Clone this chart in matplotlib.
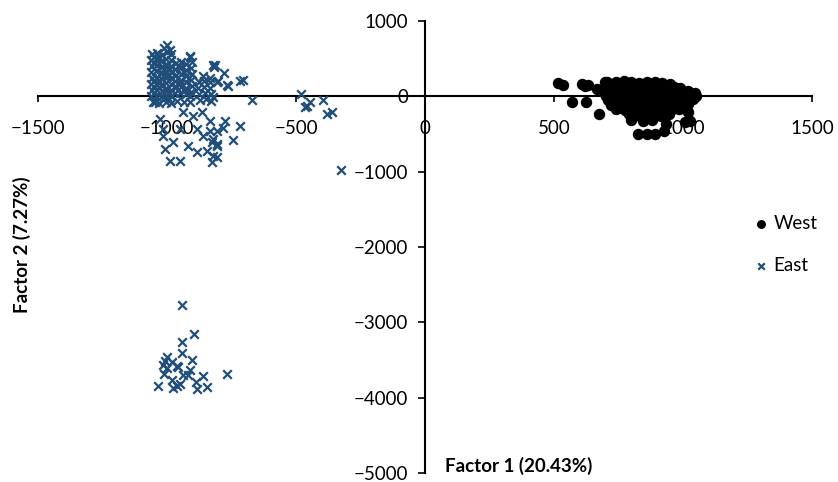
import matplotlib
matplotlib.use("Agg")
import matplotlib.pyplot as plt

# ---- data ----
west_x = [516, 535, 609, 620, 632, 570, 624, 667, 674, 698, 764, 783, 826, 860, 891, 926, 934, 1019, 1027, 1008,
          705, 740, 770, 800, 830, 860, 890, 920, 950,
          700, 725, 755, 785, 815, 845, 875, 905, 935, 965, 990,
          695, 720, 750, 780, 810, 840, 870, 900, 930, 960, 990, 1020, 1045,
          700, 730, 760, 790, 820, 850, 880, 910, 940, 970, 1000, 1030, 1052,
          710, 740, 770, 800, 830, 860, 890, 920, 950, 980, 1010, 1040,
          720, 750, 780, 810, 840, 870, 900, 930, 960, 990, 1020,
          740, 775, 805, 835, 865, 895, 925, 955, 985,
          790, 820, 850, 880, 915, 945,
          800, 845, 880]
west_y = [171, 145, 158, 132, 145, -79, -79, 92, -237, 185, -158, -198, -501, -501, -501, -462, -369, -211, -330, -343,
          195, 185, 200, 190, 180, 195, 185, 175, 160,
          130, 140, 125, 135, 130, 120, 140, 130, 125, 120, 110,
          70, 60, 75, 65, 80, 70, 60, 75, 65, 70, 60, 75, 50,
          10, 20, 5, 15, 0, 10, 20, 5, 15, 0, 10, -5, 5,
          -50, -40, -55, -45, -60, -50, -40, -55, -45, -60, -50, -40,
          -110, -120, -105, -115, -100, -110, -125, -105, -115, -120, -100,
          -170, -180, -165, -175, -185, -170, -160, -180, -165,
          -240, -250, -235, -245, -255, -240,
          -320, -330, -310]

east_x = [-1000, -1010, -990,
          -1060, -1040, -1020, -1000, -985,
          -1062, -1042, -1022, -1002, -984,
          -1060, -1040, -1020, -1000, -985,
          -1062, -1042, -1022, -1002, -984,
          -1060, -1040, -1020, -1000, -985,
          -1062, -1042, -1022, -1002, -984,
          -1060, -1040, -1020, -1000, -985,
          -1062, -1042, -1022, -1002, -984,
          -1055, -1030, -1005, -985,
          -1050, -1030, -1010, -992,
          -1052, -1032, -1012, -992,
          -1050, -1030, -1010, -992,
          -1052, -1032, -1012, -992,
          -912,
          -965, -945, -925, -905,
          -968, -948, -928, -906,
          -965, -945, -925, -905,
          -968, -948, -928, -906,
          -965, -945, -925, -905,
          -968, -948, -928, -906,
          -955, -935, -915,
          -950, -930, -912,
          -960, -935, -910,
          -860, -835,
          -875, -855, -835,
          -878, -855, -832,
          -875, -852, -830,
          -872, -850, -828,
          -822, -818, -806, -767, -779, -705, -717, -670,
          -481, -446, -465, -457, -395, -380, -360, -326,
          -717, -744, -775, -783, -806, -822, -806, -822, -806, -826, -833, -822,
          -911, -814, -802, -764, -826, -806, -845, -884, -919, -950, -988, -1008, -977, -1016, -950, -884,
          -860, -864, -938, -833, -899, -1016, -1027, -1047,
          -942, -895, -942, -942, -1000, -1008, -1016, -1000, -981, -961, -957, -903, -911, -919, -938, -1012,
          -981, -950, -961, -977, -1035, -888, -860, -884, -845, -767]
east_y = [680, 640, 620,
          560, 575, 555, 590, 565,
          480, 495, 470, 500, 485,
          400, 410, 390, 415, 405,
          320, 330, 310, 335, 325,
          240, 250, 230, 255, 245,
          160, 170, 150, 175, 165,
          80, 90, 70, 95, 85,
          0, 10, -10, 15, 5,
          -80, -90, -75, -85,
          520, 440, 360, 280,
          200, 120, 40, -40,
          440, 520, 280, 360,
          120, 200, -40, 40,
          540,
          440, 455, 430, 460,
          360, 370, 350, 375,
          280, 290, 270, 295,
          200, 210, 190, 215,
          120, 130, 110, 135,
          40, 50, 30, 55,
          400, 320, 240,
          160, 80, 0,
          -60, -80, -70,
          270, 250,
          190, 200, 185,
          110, 120, 105,
          30, 40, 25,
          -50, -40, -60,
          420, 396, 185, 145, 316, 211, 198, -53,
          26, -79, -145, -132, -53, -237, -211, -976,
          -396, -580, -330, -422, -462, -567, -660, -791, -805, -870, -330, -13,
          528, 422, 198, 132, -607, -633, -726, -739, -660, -857, -857, -699, -607, -528, -435, -435,
          -528, -211, -211, -462, -264, -435, -303, -79,
          -2770, -3152, -3258, -3403, -3456, -3509, -3561, -3601, -3522, -3574, -3588, -3495, -3627, -3693, -3693, -3680,
          -3759, -3825, -3851, -3878, -3851, -3786, -3706, -3891, -3865, -3680]

x_ticks = [-1500, -1000, -500, 0, 500, 1000, 1500]
y_ticks = [1000, 0, -1000, -2000, -3000, -4000, -5000]

# ---- figure ----
plt.rcParams['font.family'] = ['Lato', 'DejaVu Sans']
fig = plt.figure(figsize=(8.38, 4.82), dpi=100)
ax = fig.add_axes([38 / 838, 1 - 473 / 482, 774 / 838, 452 / 482])

east_color = '#1F4E79'
ax.scatter(west_x, west_y, s=52, marker='o', color='black', label='West', zorder=3)
ax.scatter(east_x, east_y, s=38, marker='x', color=east_color, linewidths=1.6, label='East', zorder=3)

ax.set_xlim(-1500, 1500)
ax.set_ylim(-5000, 1000)
ax.set_xticks(x_ticks)
ax.set_yticks(y_ticks)

for s in ['top', 'right']:
    ax.spines[s].set_visible(False)
ax.spines['left'].set_position(('data', 0))
ax.spines['bottom'].set_position(('data', 0))
ax.spines['left'].set_linewidth(1.5)
ax.spines['bottom'].set_linewidth(1.5)
ax.spines['left'].set_zorder(2)
ax.spines['bottom'].set_zorder(2)

ax.tick_params(axis='x', direction='out', length=4, width=1.2, pad=13, labelsize=13.5)
ax.tick_params(axis='y', direction='out', length=5, width=1.2, pad=7, labelsize=13.5)

leg = ax.legend(loc='upper left', bbox_to_anchor=(738 / 838, 1 - 198 / 482),
                bbox_transform=fig.transFigure, frameon=False, fontsize=13.5,
                handlelength=0.6, handletextpad=0.4, labelspacing=1.35,
                scatterpoints=1, markerscale=0.75)

fig.text(22 / 838, 1 - 245 / 482, 'Factor 2 (7.27%)', rotation=90, ha='center', va='center',
         fontsize=13.5, fontweight='bold')
fig.text(445 / 838, 1 - 466 / 482, 'Factor 1 (20.43%)', ha='left', va='center',
         fontsize=13.5, fontweight='bold')

fig.savefig('out.png', dpi=100)
